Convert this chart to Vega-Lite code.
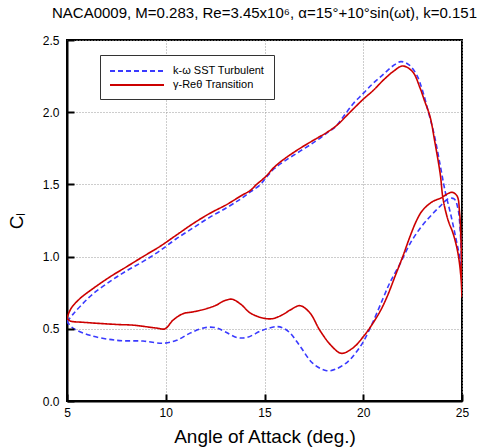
{
  "$schema": "https://vega.github.io/schema/vega-lite/v6.json",
  "autosize": {"type": "none"},
  "padding": {"left": 67, "top": 40, "right": 41, "bottom": 46},
  "width": 395,
  "height": 361,
  "background": "white",
  "title": {
    "text": "NACA0009, M=0.283, Re=3.45x10⁶, α=15°+10°sin(ωt), k=0.151",
    "font": "Liberation Sans",
    "fontSize": 15,
    "fontWeight": "normal",
    "color": "black",
    "anchor": "middle",
    "offset": 13
  },
  "config": {
    "view": {"stroke": "black", "strokeWidth": 2},
    "axis": {
      "domainColor": "black",
      "domainWidth": 2,
      "labelFont": "Liberation Sans",
      "labelFontSize": 12,
      "labelColor": "black",
      "titleFont": "Liberation Sans",
      "titleFontSize": 19,
      "titleFontWeight": "normal",
      "titleColor": "black",
      "gridColor": "#9a9a9a",
      "gridDash": [1, 2],
      "gridWidth": 1
    }
  },
  "data": {
    "values": [
      {"m": "γ-Reθ Transition", "i": 1, "a": 5.0, "cl": 0.575},
      {"m": "γ-Reθ Transition", "i": 2, "a": 5.2, "cl": 0.64},
      {"m": "γ-Reθ Transition", "i": 3, "a": 5.66, "cl": 0.71},
      {"m": "γ-Reθ Transition", "i": 4, "a": 6.33, "cl": 0.78},
      {"m": "γ-Reθ Transition", "i": 5, "a": 7.18, "cl": 0.86},
      {"m": "γ-Reθ Transition", "i": 6, "a": 8.02, "cl": 0.93},
      {"m": "γ-Reθ Transition", "i": 7, "a": 8.85, "cl": 1.0},
      {"m": "γ-Reθ Transition", "i": 8, "a": 9.7, "cl": 1.07},
      {"m": "γ-Reθ Transition", "i": 9, "a": 10.55, "cl": 1.15},
      {"m": "γ-Reθ Transition", "i": 10, "a": 11.4, "cl": 1.23},
      {"m": "γ-Reθ Transition", "i": 11, "a": 12.24, "cl": 1.3},
      {"m": "γ-Reθ Transition", "i": 12, "a": 13.08, "cl": 1.36},
      {"m": "γ-Reθ Transition", "i": 13, "a": 13.8, "cl": 1.42},
      {"m": "γ-Reθ Transition", "i": 14, "a": 14.3, "cl": 1.46},
      {"m": "γ-Reθ Transition", "i": 15, "a": 14.6, "cl": 1.5},
      {"m": "γ-Reθ Transition", "i": 16, "a": 15.03, "cl": 1.55},
      {"m": "γ-Reθ Transition", "i": 17, "a": 15.5, "cl": 1.62},
      {"m": "γ-Reθ Transition", "i": 18, "a": 15.94, "cl": 1.67},
      {"m": "γ-Reθ Transition", "i": 19, "a": 16.8, "cl": 1.75},
      {"m": "γ-Reθ Transition", "i": 20, "a": 17.66, "cl": 1.82},
      {"m": "γ-Reθ Transition", "i": 21, "a": 18.16, "cl": 1.86},
      {"m": "γ-Reθ Transition", "i": 22, "a": 18.67, "cl": 1.91},
      {"m": "γ-Reθ Transition", "i": 23, "a": 19.33, "cl": 2.0},
      {"m": "γ-Reθ Transition", "i": 24, "a": 20.0, "cl": 2.09},
      {"m": "γ-Reθ Transition", "i": 25, "a": 20.5, "cl": 2.15},
      {"m": "γ-Reθ Transition", "i": 26, "a": 21.0, "cl": 2.22},
      {"m": "γ-Reθ Transition", "i": 27, "a": 21.5, "cl": 2.28},
      {"m": "γ-Reθ Transition", "i": 28, "a": 22.0, "cl": 2.32},
      {"m": "γ-Reθ Transition", "i": 29, "a": 22.5, "cl": 2.28},
      {"m": "γ-Reθ Transition", "i": 30, "a": 22.87, "cl": 2.17},
      {"m": "γ-Reθ Transition", "i": 31, "a": 23.1, "cl": 2.08},
      {"m": "γ-Reθ Transition", "i": 32, "a": 23.38, "cl": 1.97},
      {"m": "γ-Reθ Transition", "i": 33, "a": 23.63, "cl": 1.79},
      {"m": "γ-Reθ Transition", "i": 34, "a": 23.9, "cl": 1.57},
      {"m": "γ-Reθ Transition", "i": 35, "a": 24.04, "cl": 1.4},
      {"m": "γ-Reθ Transition", "i": 36, "a": 24.3, "cl": 1.25},
      {"m": "γ-Reθ Transition", "i": 37, "a": 24.55, "cl": 1.16},
      {"m": "γ-Reθ Transition", "i": 38, "a": 24.8, "cl": 1.02},
      {"m": "γ-Reθ Transition", "i": 39, "a": 24.95, "cl": 0.85},
      {"m": "γ-Reθ Transition", "i": 40, "a": 25.0, "cl": 0.72},
      {"m": "γ-Reθ Transition", "i": 41, "a": 24.98, "cl": 0.9},
      {"m": "γ-Reθ Transition", "i": 42, "a": 24.95, "cl": 1.1},
      {"m": "γ-Reθ Transition", "i": 43, "a": 24.88, "cl": 1.3},
      {"m": "γ-Reθ Transition", "i": 44, "a": 24.75, "cl": 1.42},
      {"m": "γ-Reθ Transition", "i": 45, "a": 24.5, "cl": 1.445},
      {"m": "γ-Reθ Transition", "i": 46, "a": 24.2, "cl": 1.43},
      {"m": "γ-Reθ Transition", "i": 47, "a": 24.0, "cl": 1.41},
      {"m": "γ-Reθ Transition", "i": 48, "a": 23.5, "cl": 1.38},
      {"m": "γ-Reθ Transition", "i": 49, "a": 23.0, "cl": 1.32},
      {"m": "γ-Reθ Transition", "i": 50, "a": 22.7, "cl": 1.25},
      {"m": "γ-Reθ Transition", "i": 51, "a": 22.37, "cl": 1.14},
      {"m": "γ-Reθ Transition", "i": 52, "a": 22.0, "cl": 1.0},
      {"m": "γ-Reθ Transition", "i": 53, "a": 21.6, "cl": 0.86},
      {"m": "γ-Reθ Transition", "i": 54, "a": 21.2, "cl": 0.72},
      {"m": "γ-Reθ Transition", "i": 55, "a": 20.85, "cl": 0.62},
      {"m": "γ-Reθ Transition", "i": 56, "a": 20.4, "cl": 0.52},
      {"m": "γ-Reθ Transition", "i": 57, "a": 20.0, "cl": 0.445},
      {"m": "γ-Reθ Transition", "i": 58, "a": 19.5, "cl": 0.37},
      {"m": "γ-Reθ Transition", "i": 59, "a": 18.9, "cl": 0.33},
      {"m": "γ-Reθ Transition", "i": 60, "a": 18.4, "cl": 0.38},
      {"m": "γ-Reθ Transition", "i": 61, "a": 17.8, "cl": 0.49},
      {"m": "γ-Reθ Transition", "i": 62, "a": 17.3, "cl": 0.61},
      {"m": "γ-Reθ Transition", "i": 63, "a": 16.8, "cl": 0.66},
      {"m": "γ-Reθ Transition", "i": 64, "a": 16.3, "cl": 0.63},
      {"m": "γ-Reθ Transition", "i": 65, "a": 15.95, "cl": 0.6},
      {"m": "γ-Reθ Transition", "i": 66, "a": 15.4, "cl": 0.57},
      {"m": "γ-Reθ Transition", "i": 67, "a": 14.9, "cl": 0.575},
      {"m": "γ-Reθ Transition", "i": 68, "a": 14.27, "cl": 0.61},
      {"m": "γ-Reθ Transition", "i": 69, "a": 13.8, "cl": 0.67},
      {"m": "γ-Reθ Transition", "i": 70, "a": 13.34, "cl": 0.705},
      {"m": "γ-Reθ Transition", "i": 71, "a": 12.9, "cl": 0.69},
      {"m": "γ-Reθ Transition", "i": 72, "a": 12.58, "cl": 0.665},
      {"m": "γ-Reθ Transition", "i": 73, "a": 12.07, "cl": 0.64},
      {"m": "γ-Reθ Transition", "i": 74, "a": 11.38, "cl": 0.617},
      {"m": "γ-Reθ Transition", "i": 75, "a": 10.88, "cl": 0.605},
      {"m": "γ-Reθ Transition", "i": 76, "a": 10.37, "cl": 0.56},
      {"m": "γ-Reθ Transition", "i": 77, "a": 9.96, "cl": 0.5},
      {"m": "γ-Reθ Transition", "i": 78, "a": 9.54, "cl": 0.505},
      {"m": "γ-Reθ Transition", "i": 79, "a": 8.36, "cl": 0.525},
      {"m": "γ-Reθ Transition", "i": 80, "a": 7.52, "cl": 0.53},
      {"m": "γ-Reθ Transition", "i": 81, "a": 5.83, "cl": 0.545},
      {"m": "γ-Reθ Transition", "i": 82, "a": 5.15, "cl": 0.555},
      {"m": "γ-Reθ Transition", "i": 83, "a": 5.0, "cl": 0.575},
      {"m": "k-ω SST Turbulent", "i": 1, "a": 5.0, "cl": 0.55},
      {"m": "k-ω SST Turbulent", "i": 2, "a": 5.3, "cl": 0.6},
      {"m": "k-ω SST Turbulent", "i": 3, "a": 5.7, "cl": 0.66},
      {"m": "k-ω SST Turbulent", "i": 4, "a": 6.3, "cl": 0.74},
      {"m": "k-ω SST Turbulent", "i": 5, "a": 7.2, "cl": 0.83},
      {"m": "k-ω SST Turbulent", "i": 6, "a": 8.0, "cl": 0.9},
      {"m": "k-ω SST Turbulent", "i": 7, "a": 8.9, "cl": 0.97},
      {"m": "k-ω SST Turbulent", "i": 8, "a": 9.7, "cl": 1.04},
      {"m": "k-ω SST Turbulent", "i": 9, "a": 10.5, "cl": 1.12},
      {"m": "k-ω SST Turbulent", "i": 10, "a": 11.4, "cl": 1.2},
      {"m": "k-ω SST Turbulent", "i": 11, "a": 12.2, "cl": 1.27},
      {"m": "k-ω SST Turbulent", "i": 12, "a": 13.1, "cl": 1.34},
      {"m": "k-ω SST Turbulent", "i": 13, "a": 13.8, "cl": 1.4},
      {"m": "k-ω SST Turbulent", "i": 14, "a": 14.3, "cl": 1.45},
      {"m": "k-ω SST Turbulent", "i": 15, "a": 14.8, "cl": 1.5},
      {"m": "k-ω SST Turbulent", "i": 16, "a": 15.1, "cl": 1.55},
      {"m": "k-ω SST Turbulent", "i": 17, "a": 15.5, "cl": 1.61},
      {"m": "k-ω SST Turbulent", "i": 18, "a": 16.0, "cl": 1.66},
      {"m": "k-ω SST Turbulent", "i": 19, "a": 16.8, "cl": 1.73},
      {"m": "k-ω SST Turbulent", "i": 20, "a": 17.6, "cl": 1.8},
      {"m": "k-ω SST Turbulent", "i": 21, "a": 18.2, "cl": 1.86},
      {"m": "k-ω SST Turbulent", "i": 22, "a": 18.6, "cl": 1.9},
      {"m": "k-ω SST Turbulent", "i": 23, "a": 19.0, "cl": 1.97},
      {"m": "k-ω SST Turbulent", "i": 24, "a": 19.5, "cl": 2.06},
      {"m": "k-ω SST Turbulent", "i": 25, "a": 20.0, "cl": 2.13},
      {"m": "k-ω SST Turbulent", "i": 26, "a": 20.5, "cl": 2.2},
      {"m": "k-ω SST Turbulent", "i": 27, "a": 21.0, "cl": 2.26},
      {"m": "k-ω SST Turbulent", "i": 28, "a": 21.5, "cl": 2.32},
      {"m": "k-ω SST Turbulent", "i": 29, "a": 21.9, "cl": 2.35},
      {"m": "k-ω SST Turbulent", "i": 30, "a": 22.3, "cl": 2.33},
      {"m": "k-ω SST Turbulent", "i": 31, "a": 22.7, "cl": 2.26},
      {"m": "k-ω SST Turbulent", "i": 32, "a": 23.0, "cl": 2.15},
      {"m": "k-ω SST Turbulent", "i": 33, "a": 23.3, "cl": 2.0},
      {"m": "k-ω SST Turbulent", "i": 34, "a": 23.6, "cl": 1.84},
      {"m": "k-ω SST Turbulent", "i": 35, "a": 23.9, "cl": 1.63},
      {"m": "k-ω SST Turbulent", "i": 36, "a": 24.15, "cl": 1.45},
      {"m": "k-ω SST Turbulent", "i": 37, "a": 24.45, "cl": 1.28},
      {"m": "k-ω SST Turbulent", "i": 38, "a": 24.7, "cl": 1.12},
      {"m": "k-ω SST Turbulent", "i": 39, "a": 24.9, "cl": 0.98},
      {"m": "k-ω SST Turbulent", "i": 40, "a": 25.0, "cl": 0.82},
      {"m": "k-ω SST Turbulent", "i": 41, "a": 24.97, "cl": 1.0},
      {"m": "k-ω SST Turbulent", "i": 42, "a": 24.9, "cl": 1.2},
      {"m": "k-ω SST Turbulent", "i": 43, "a": 24.8, "cl": 1.33},
      {"m": "k-ω SST Turbulent", "i": 44, "a": 24.6, "cl": 1.4},
      {"m": "k-ω SST Turbulent", "i": 45, "a": 24.3, "cl": 1.4},
      {"m": "k-ω SST Turbulent", "i": 46, "a": 23.9, "cl": 1.35},
      {"m": "k-ω SST Turbulent", "i": 47, "a": 23.4, "cl": 1.28},
      {"m": "k-ω SST Turbulent", "i": 48, "a": 22.9, "cl": 1.2},
      {"m": "k-ω SST Turbulent", "i": 49, "a": 22.37, "cl": 1.09},
      {"m": "k-ω SST Turbulent", "i": 50, "a": 21.86, "cl": 0.95},
      {"m": "k-ω SST Turbulent", "i": 51, "a": 21.35, "cl": 0.82},
      {"m": "k-ω SST Turbulent", "i": 52, "a": 21.0, "cl": 0.71},
      {"m": "k-ω SST Turbulent", "i": 53, "a": 20.5, "cl": 0.55},
      {"m": "k-ω SST Turbulent", "i": 54, "a": 20.0, "cl": 0.41},
      {"m": "k-ω SST Turbulent", "i": 55, "a": 19.6, "cl": 0.33},
      {"m": "k-ω SST Turbulent", "i": 56, "a": 19.2, "cl": 0.27},
      {"m": "k-ω SST Turbulent", "i": 57, "a": 18.6, "cl": 0.22},
      {"m": "k-ω SST Turbulent", "i": 58, "a": 18.15, "cl": 0.21},
      {"m": "k-ω SST Turbulent", "i": 59, "a": 17.45, "cl": 0.26},
      {"m": "k-ω SST Turbulent", "i": 60, "a": 16.8, "cl": 0.38},
      {"m": "k-ω SST Turbulent", "i": 61, "a": 16.3, "cl": 0.47},
      {"m": "k-ω SST Turbulent", "i": 62, "a": 15.95, "cl": 0.505},
      {"m": "k-ω SST Turbulent", "i": 63, "a": 15.6, "cl": 0.515},
      {"m": "k-ω SST Turbulent", "i": 64, "a": 14.9, "cl": 0.49},
      {"m": "k-ω SST Turbulent", "i": 65, "a": 14.1, "cl": 0.44},
      {"m": "k-ω SST Turbulent", "i": 66, "a": 13.6, "cl": 0.44},
      {"m": "k-ω SST Turbulent", "i": 67, "a": 13.0, "cl": 0.48},
      {"m": "k-ω SST Turbulent", "i": 68, "a": 12.6, "cl": 0.505},
      {"m": "k-ω SST Turbulent", "i": 69, "a": 12.07, "cl": 0.51},
      {"m": "k-ω SST Turbulent", "i": 70, "a": 11.23, "cl": 0.47},
      {"m": "k-ω SST Turbulent", "i": 71, "a": 10.55, "cl": 0.42},
      {"m": "k-ω SST Turbulent", "i": 72, "a": 9.87, "cl": 0.4},
      {"m": "k-ω SST Turbulent", "i": 73, "a": 8.85, "cl": 0.415},
      {"m": "k-ω SST Turbulent", "i": 74, "a": 7.52, "cl": 0.42},
      {"m": "k-ω SST Turbulent", "i": 75, "a": 6.16, "cl": 0.455},
      {"m": "k-ω SST Turbulent", "i": 76, "a": 5.3, "cl": 0.505},
      {"m": "k-ω SST Turbulent", "i": 77, "a": 5.0, "cl": 0.55}
    ]
  },
  "resolve": {"axis": {"x": "independent", "y": "independent"}},
  "layer": [
    {
      "transform": [{"filter": "datum.m === 'k-ω SST Turbulent'"}],
      "mark": {"type": "line", "interpolate": "catmull-rom", "strokeWidth": 1.6, "clip": true},
      "encoding": {
        "x": {
          "field": "a",
          "type": "quantitative",
          "scale": {"domain": [5, 25], "nice": false, "zero": false},
          "axis": {"orient": "bottom", "values": [5, 10, 15, 20, 25], "title": "Angle of Attack (deg.)", "ticks": false, "grid": true, "labelPadding": 6, "titlePadding": 9, "labelFlush": false}
        },
        "y": {
          "field": "cl",
          "type": "quantitative",
          "scale": {"domain": [0, 2.5], "nice": false},
          "axis": {"orient": "left", "values": [0, 0.5, 1, 1.5, 2, 2.5], "format": ".1f", "title": "Cₗ", "ticks": false, "grid": true, "labelPadding": 8, "titlePadding": 16, "labelFlush": false}
        },
        "order": {"field": "i", "type": "quantitative"},
        "color": {
          "field": "m",
          "type": "nominal",
          "scale": {"domain": ["k-ω SST Turbulent", "γ-Reθ Transition"], "range": ["#3a3aff", "#cc0000"]},
          "legend": {
            "title": null,
            "orient": "none",
            "legendX": 33,
            "legendY": 15,
            "symbolType": "M-1,0H8",
            "symbolSize": 144,
            "symbolStrokeWidth": 2,
            "labelFont": "Liberation Sans",
            "labelFontSize": 11,
            "labelColor": "black",
            "strokeColor": "#333",
            "fillColor": "white",
            "padding": 9,
            "rowPadding": 2,
            "labelOffset": 50
          }
        },
        "strokeDash": {
          "field": "m",
          "type": "nominal",
          "scale": {"domain": ["k-ω SST Turbulent", "γ-Reθ Transition"], "range": [[5, 3], [1, 0]]},
          "legend": null
        }
      }
    },
    {
      "transform": [{"filter": "datum.m === 'γ-Reθ Transition'"}],
      "mark": {"type": "line", "interpolate": "catmull-rom", "strokeWidth": 1.6, "clip": true},
      "encoding": {
        "x": {
          "field": "a",
          "type": "quantitative",
          "scale": {"domain": [5, 25], "nice": false, "zero": false},
          "axis": {"orient": "bottom", "values": [5, 10, 15, 20, 25], "title": null, "labels": false, "domain": false, "grid": false, "ticks": true, "tickSize": 7, "tickColor": "black", "tickWidth": 2, "offset": -7, "zindex": 5}
        },
        "y": {
          "field": "cl",
          "type": "quantitative",
          "scale": {"domain": [0, 2.5], "nice": false},
          "axis": {"orient": "left", "values": [0, 0.5, 1, 1.5, 2, 2.5], "title": null, "labels": false, "domain": false, "grid": false, "ticks": true, "tickSize": 7, "tickColor": "black", "tickWidth": 2, "offset": -7, "zindex": 5}
        },
        "order": {"field": "i", "type": "quantitative"},
        "color": {
          "field": "m",
          "type": "nominal",
          "scale": {"domain": ["k-ω SST Turbulent", "γ-Reθ Transition"], "range": ["#3a3aff", "#cc0000"]}
        },
        "strokeDash": {
          "field": "m",
          "type": "nominal",
          "scale": {"domain": ["k-ω SST Turbulent", "γ-Reθ Transition"], "range": [[5, 3], [1, 0]]},
          "legend": null
        }
      }
    }
  ]
}
